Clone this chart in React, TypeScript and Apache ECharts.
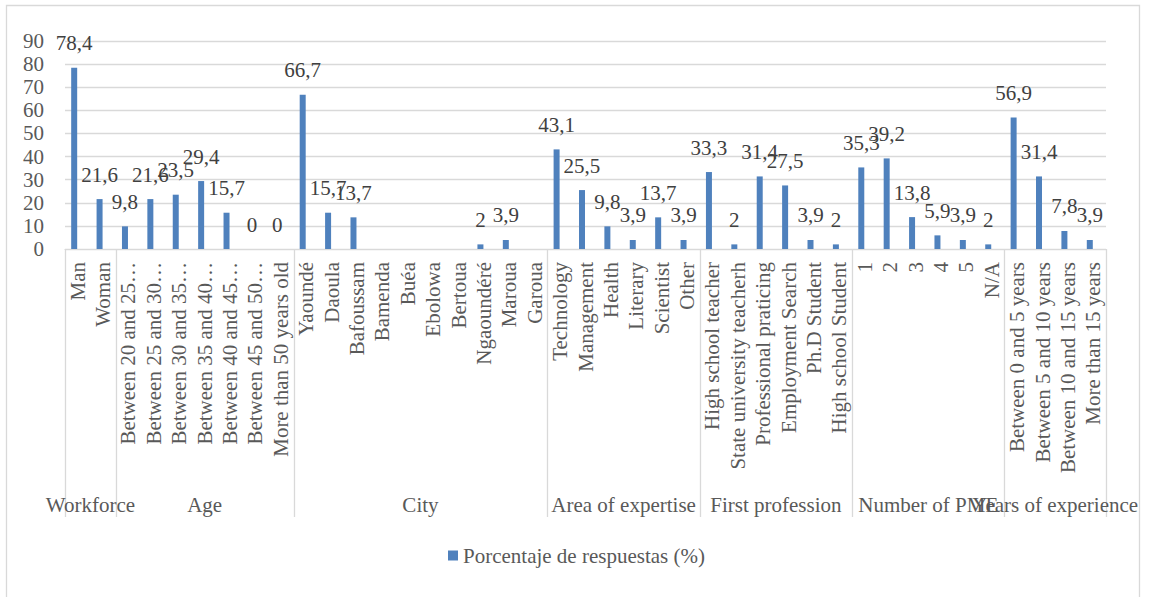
import React, { useEffect, useRef } from "react";
import * as echarts from "echarts";

// Survey profile: share of answers per category, grouped by question
const groupNames = [
  "Workforce",
  "Age",
  "City",
  "Area of expertise",
  "First profession",
  "Number of PME",
  "Years of experience",
];
const groupSizes = [2, 7, 10, 6, 6, 6, 4];

const categories = [
  "Man",
  "Woman",
  "Between 20 and 25…",
  "Between 25 and 30…",
  "Between 30 and 35…",
  "Between 35 and 40…",
  "Between 40 and 45…",
  "Between 45 and 50…",
  "More than 50 years old",
  "Yaoundé",
  "Daoula",
  "Bafoussam",
  "Bamenda",
  "Buéa",
  "Ebolowa",
  "Bertoua",
  "Ngaoundéré",
  "Maroua",
  "Garoua",
  "Technology",
  "Management",
  "Health",
  "Literary",
  "Scientist",
  "Other",
  "High school teacher",
  "State university teacherh",
  "Professional praticing",
  "Employment Search",
  "Ph.D Student",
  "High school Student",
  "1",
  "2",
  "3",
  "4",
  "5",
  "N/A",
  "Between 0 and 5 years",
  "Between 5 and 10 years",
  "Between 10 and 15 years",
  "More than 15 years",
];

const percentages: (number | null)[] = [
  78.4, 21.6,
  9.8, 21.6, 23.5, 29.4, 15.7, 0, 0,
  66.7, 15.7, 13.7, null, null, null, null, 2, 3.9, null,
  43.1, 25.5, 9.8, 3.9, 13.7, 3.9,
  33.3, 2, 31.4, 27.5, 3.9, 2,
  35.3, 39.2, 13.8, 5.9, 3.9, 2,
  56.9, 31.4, 7.8, 3.9,
];

const yMin = 0;
const yMax = 90;
const yStep = 10;

const seriesName = "Porcentaje de respuestas (%)";

const FONT = '"Liberation Serif", "Times New Roman", serif';
const AXIS_TEXT = "#595959";
const LINE = "#d9d9d9";
const BAR = "#4f81bd";

export default function App() {
  const ref = useRef<HTMLDivElement>(null);

  useEffect(() => {
    if (!ref.current) return;
    const chart = echarts.init(ref.current, undefined, { renderer: "svg" });

    chart.setOption({
      animation: false,
      textStyle: { fontFamily: FONT },
      grid: {
        left: 65,
        right: 43,
        top: 41,
        bottom: 348,
        containLabel: false,
        outerBoundsMode: "none",
      },
      legend: {
        data: [seriesName],
        left: 443,
        top: 540,
        icon: "rect",
        itemWidth: 10,
        itemHeight: 10,
        textStyle: { fontFamily: FONT, fontSize: 21, color: AXIS_TEXT },
      },
      xAxis: {
        type: "category",
        data: categories,
        axisLine: { show: true, lineStyle: { color: LINE, width: 1 } },
        axisTick: { show: false },
        axisLabel: {
          interval: 0,
          rotate: 90,
          margin: 13,
          fontFamily: FONT,
          fontSize: 21,
          color: AXIS_TEXT,
        },
      },
      yAxis: {
        type: "value",
        min: yMin,
        max: yMax,
        interval: yStep,
        axisLine: { show: false },
        axisTick: { show: false },
        splitLine: { lineStyle: { color: LINE, width: 1.3 } },
        axisLabel: {
          margin: 21,
          fontFamily: FONT,
          fontSize: 21,
          color: AXIS_TEXT,
        },
      },
      series: [
        {
          name: seriesName,
          type: "bar",
          data: percentages,
          barWidth: 6,
          barGap: "17%",
          itemStyle: { color: BAR },
          label: {
            show: true,
            position: "top",
            distance: 14,
            fontFamily: FONT,
            fontSize: 21,
            color: "#404040",
            formatter: (p: any) =>
              p.value === null || p.value === undefined
                ? ""
                : String(p.value).replace(".", ","),
          },
        },
        {
          name: "",
          type: "bar",
          data: categories.map(() => null),
          barWidth: 6,
          itemStyle: { color: "transparent" },
        },
      ],
    });

    // Group separators and group names below the category labels
    const c0 = chart.convertToPixel({ xAxisIndex: 0 }, 0) as number;
    const c1 = chart.convertToPixel({ xAxisIndex: 0 }, 1) as number;
    const band = c1 - c0;
    const edge = (i: number) => c0 - band / 2 + i * band;
    const axisY = chart.convertToPixel({ yAxisIndex: 0 }, yMin) as number;
    const sepBottom = axisY + 268;
    const labelY = axisY + 256;

    const elements: any[] = [
      {
        type: "rect",
        silent: true,
        z: -10,
        shape: { x: 6.5, y: 5.5, width: 1133, height: 600 },
        style: { fill: "none", stroke: LINE, lineWidth: 1.3 },
      },
    ];

    let start = 0;
    const bounds = [0];
    groupSizes.forEach((n) => {
      start += n;
      bounds.push(start);
    });
    bounds.forEach((b) => {
      const x = Math.round(edge(b)) + 0.5;
      elements.push({
        type: "line",
        silent: true,
        shape: { x1: x, y1: axisY, x2: x, y2: sepBottom },
        style: { stroke: LINE, lineWidth: 1.3 },
      });
    });
    groupNames.forEach((name, gi) => {
      const mid = (edge(bounds[gi]) + edge(bounds[gi + 1])) / 2;
      elements.push({
        type: "text",
        silent: true,
        x: mid,
        y: labelY,
        style: {
          text: name,
          fontFamily: FONT,
          fontSize: 21,
          fill: AXIS_TEXT,
          align: "center",
          verticalAlign: "middle",
        },
      });
    });

    chart.setOption({ graphic: elements });

    return () => chart.dispose();
  }, []);

  return (
    <div
      ref={ref}
      style={{
        position: "absolute",
        left: 0,
        top: 0,
        width: 1149,
        height: 597,
        background: "#ffffff",
      }}
    />
  );
}
